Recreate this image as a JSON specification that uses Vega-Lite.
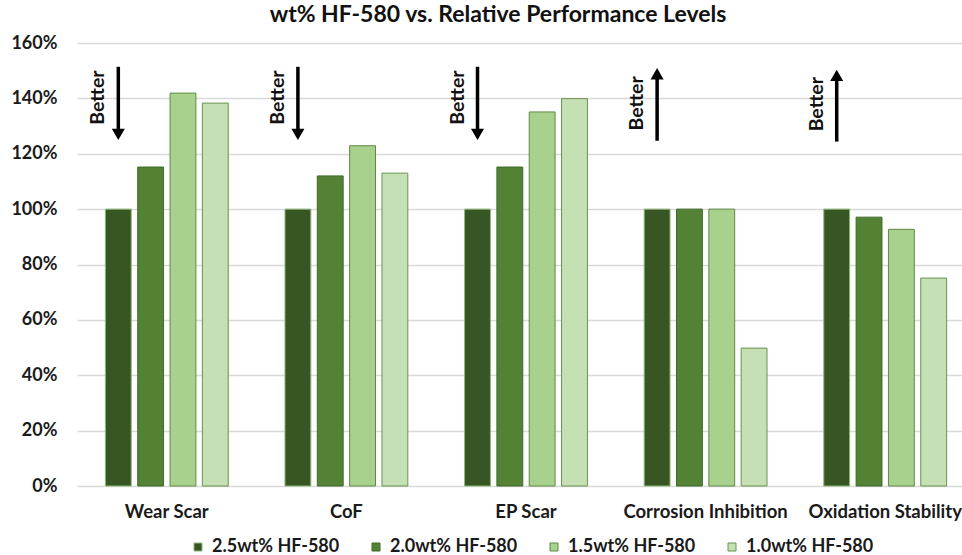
{
  "$schema": "https://vega.github.io/schema/vega-lite/v6.json",
  "width": 898,
  "height": 443,
  "autosize": {"type": "none"},
  "padding": {"left": 77, "top": 43, "right": 0, "bottom": 69},
  "background": "white",
  "config": {
    "font": "Lato",
    "view": {"stroke": null},
    "axis": {"labelFont": "Lato", "labelFontWeight": "bold", "labelColor": "#1a1a1a"}
  },
  "title": {
    "text": "wt% HF-580 vs. Relative Performance Levels",
    "fontSize": 23,
    "fontWeight": "bold",
    "font": "Lato",
    "color": "#111111",
    "anchor": "middle",
    "frame": "group",
    "dx": -28,
    "offset": 7
  },
  "datasets": {
    "bars": [
      {"category": "Wear Scar", "series": "2.5wt% HF-580", "value": 100},
      {"category": "Wear Scar", "series": "2.0wt% HF-580", "value": 115.2},
      {"category": "Wear Scar", "series": "1.5wt% HF-580", "value": 141.9},
      {"category": "Wear Scar", "series": "1.0wt% HF-580", "value": 138.3},
      {"category": "CoF", "series": "2.5wt% HF-580", "value": 100},
      {"category": "CoF", "series": "2.0wt% HF-580", "value": 112},
      {"category": "CoF", "series": "1.5wt% HF-580", "value": 122.9},
      {"category": "CoF", "series": "1.0wt% HF-580", "value": 113},
      {"category": "EP Scar", "series": "2.5wt% HF-580", "value": 100},
      {"category": "EP Scar", "series": "2.0wt% HF-580", "value": 115.2},
      {"category": "EP Scar", "series": "1.5wt% HF-580", "value": 135.1},
      {"category": "EP Scar", "series": "1.0wt% HF-580", "value": 139.9},
      {"category": "Corrosion Inhibition", "series": "2.5wt% HF-580", "value": 100},
      {"category": "Corrosion Inhibition", "series": "2.0wt% HF-580", "value": 100},
      {"category": "Corrosion Inhibition", "series": "1.5wt% HF-580", "value": 100},
      {"category": "Corrosion Inhibition", "series": "1.0wt% HF-580", "value": 49.8},
      {"category": "Oxidation Stability", "series": "2.5wt% HF-580", "value": 100},
      {"category": "Oxidation Stability", "series": "2.0wt% HF-580", "value": 97.1},
      {"category": "Oxidation Stability", "series": "1.5wt% HF-580", "value": 92.7},
      {"category": "Oxidation Stability", "series": "1.0wt% HF-580", "value": 75.1}
    ],
    "arrows": [
      {"category": "Wear Scar", "series": "2.5wt% HF-580", "top": 151.4, "bottom": 127.5, "head": 127.0, "dir": "down", "label": "Better", "labelY": 140.3},
      {"category": "CoF", "series": "2.5wt% HF-580", "top": 151.4, "bottom": 127.5, "head": 127.0, "dir": "down", "label": "Better", "labelY": 140.3},
      {"category": "EP Scar", "series": "2.5wt% HF-580", "top": 151.4, "bottom": 127.5, "head": 127.0, "dir": "down", "label": "Better", "labelY": 140.3},
      {"category": "Corrosion Inhibition", "series": "2.5wt% HF-580", "top": 148.5, "bottom": 124.7, "head": 148.9, "dir": "up", "label": "Better", "labelY": 138.2},
      {"category": "Oxidation Stability", "series": "2.5wt% HF-580", "top": 148.0, "bottom": 124.4, "head": 148.3, "dir": "up", "label": "Better", "labelY": 137.9}
    ]
  },
  "encoding": {
    "x": {
      "field": "category",
      "type": "nominal",
      "sort": ["Wear Scar", "CoF", "EP Scar", "Corrosion Inhibition", "Oxidation Stability"],
      "scale": {"paddingInner": 0.316, "paddingOuter": 0.158},
      "axis": {"title": null, "labelAngle": 0, "labelFontSize": 18.5, "labelPadding": 16, "ticks": false, "domain": false}
    },
    "xOffset": {
      "field": "series",
      "type": "nominal",
      "sort": ["2.5wt% HF-580", "2.0wt% HF-580", "1.5wt% HF-580", "1.0wt% HF-580"],
      "scale": {"paddingInner": 0.2, "paddingOuter": 0}
    }
  },
  "layer": [
    {
      "data": {"name": "bars"},
      "mark": {"type": "bar", "strokeWidth": 1},
      "encoding": {
        "y": {
          "field": "value",
          "type": "quantitative",
          "scale": {"domain": [0, 160], "nice": false},
          "axis": {
            "title": null,
            "values": [0, 20, 40, 60, 80, 100, 120, 140, 160],
            "labelExpr": "datum.value + '%'",
            "labelFontSize": 18,
            "labelPadding": 20,
            "ticks": false,
            "domain": false,
            "gridColor": "#d9d9d9",
            "gridWidth": 1.3
          }
        },
        "color": {
          "field": "series",
          "type": "nominal",
          "sort": ["2.5wt% HF-580", "2.0wt% HF-580", "1.5wt% HF-580", "1.0wt% HF-580"],
          "scale": {
            "domain": ["2.5wt% HF-580", "2.0wt% HF-580", "1.5wt% HF-580", "1.0wt% HF-580"],
            "range": ["#375623", "#548235", "#a9d18e", "#c5e0b4"]
          },
          "legend": {
            "title": null,
            "orient": "none",
            "direction": "horizontal",
            "columns": 4,
            "legendX": 112,
            "legendY": 495,
            "symbolType": "square",
            "symbolSize": 64,
            "symbolStrokeWidth": 1,
            "symbolStrokeColor": "#4e7a34",
            "labelFont": "Lato",
            "labelFontWeight": "bold",
            "labelFontSize": 18,
            "labelColor": "#1a1a1a",
            "labelOffset": 5,
            "labelLimit": 300,
            "columnPadding": 27
          }
        },
        "stroke": {
          "field": "series",
          "type": "nominal",
          "scale": {
            "domain": ["2.5wt% HF-580", "2.0wt% HF-580", "1.5wt% HF-580", "1.0wt% HF-580"],
            "range": ["#8fb878", "#3f6a2a", "#5e8a44", "#6a9150"]
          },
          "legend": null
        }
      }
    },
    {
      "data": {"name": "arrows"},
      "mark": {"type": "rule", "strokeWidth": 3.5, "color": "black"},
      "encoding": {
        "y": {"field": "top", "type": "quantitative"},
        "y2": {"field": "bottom"}
      }
    },
    {
      "data": {"name": "arrows"},
      "mark": {"type": "point", "filled": true, "size": 170, "color": "black", "opacity": 1},
      "encoding": {
        "y": {"field": "head", "type": "quantitative"},
        "shape": {
          "field": "dir",
          "type": "nominal",
          "scale": {"domain": ["down", "up"], "range": ["triangle-down", "triangle-up"]},
          "legend": null
        }
      }
    },
    {
      "data": {"name": "arrows"},
      "mark": {"type": "text", "angle": 270, "align": "center", "baseline": "alphabetic", "dy": -14, "fontSize": 19.5, "fontWeight": "bold", "font": "Lato", "color": "#111111"},
      "encoding": {
        "y": {"field": "labelY", "type": "quantitative"},
        "text": {"field": "label"}
      }
    }
  ]
}
